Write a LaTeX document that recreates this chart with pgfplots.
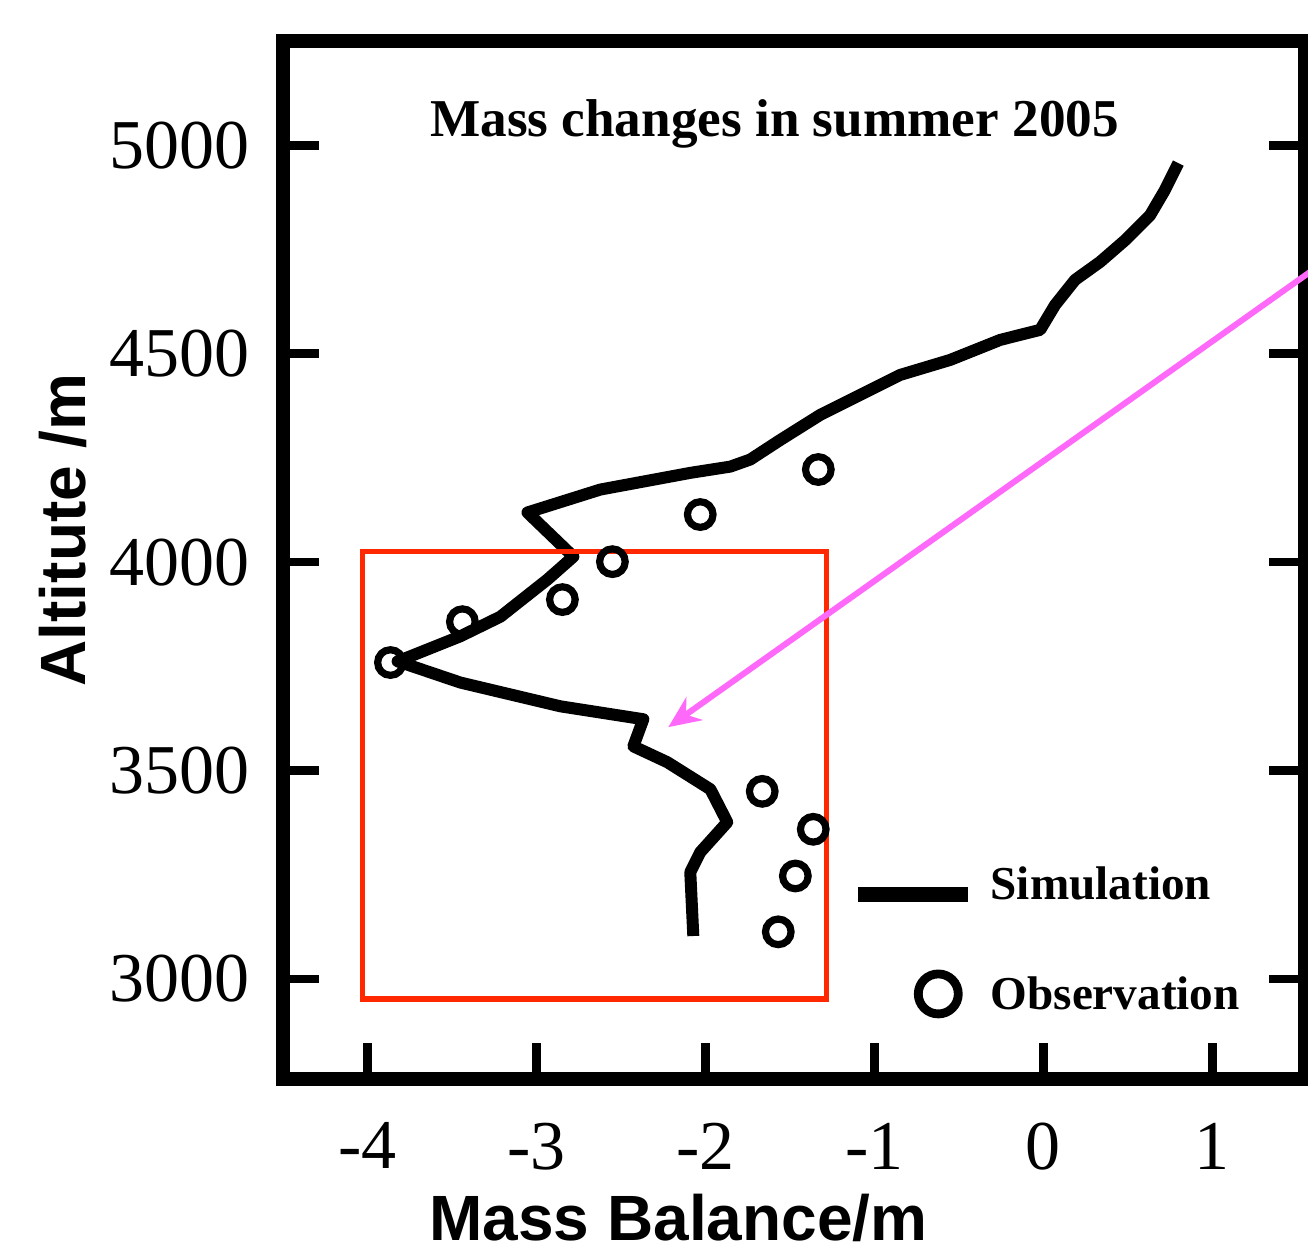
\documentclass[border=0pt]{standalone}
\usepackage{fontspec}
\setmainfont{Liberation Serif}
\newfontfamily\labelfont{Liberation Sans}
\usepackage{pgfplots}
\usepackage{pgfplotstable}
\pgfplotsset{compat=1.18}
\usetikzlibrary{arrows.meta}

\definecolor{boxred}{RGB}{255,40,0}
\definecolor{arrowpink}{RGB}{255,105,250}

% simulated mass balance profile (m) against altitude (m)
\pgfplotstableread{
mb     alt
0.80   4957
0.72   4892
0.633  4832
0.485  4772
0.337  4720
0.189  4677
0.071  4617
-0.018 4557
-0.254 4533
-0.550 4485
-0.846 4449
-1.083 4401
-1.320 4353
-1.556 4293
-1.734 4246
-1.852 4229
-2.089 4214
-2.621 4174
-3.053 4119
-2.781 4013
-2.935 3958
-3.213 3869
-3.450 3822
-3.746 3774
-3.822 3762
-3.450 3711
-2.858 3654
-2.367 3623
-2.426 3558
-2.225 3520
-1.970 3455
-1.870 3376
-2.030 3304
-2.089 3256
-2.071 3103
}\simtable

% observed stakes
\pgfplotstableread{
mb     alt
-1.331 4222
-2.030 4114
-2.550 4001
-2.846 3910
-3.438 3857
-3.864 3759
-1.663 3450
-1.361 3359
-1.467 3247
-1.568 3113
}\obstable

\begin{document}
\begin{tikzpicture}
\useasboundingbox (-70.75pt,-43.5pt) rectangle (256.25pt,269.75pt);
\begin{axis}[
    scale only axis,
    width=255.5pt, height=259.5pt,
    xmin=-4.5, xmax=1.55,
    ymin=2760, ymax=5250,
    xtick={-4,-3,-2,-1,0,1},
    ytick={3000,3500,4000,4500,5000},
    xtick pos=lower, ytick pos=both, yticklabel pos=left,
    tick align=inside,
    major tick length=9pt,
    every tick/.style={black, line width=2.2pt},
    axis line style={line width=3.6pt},
    tick label style={font=\fontsize{17.5}{20}\selectfont},
    xticklabel style={anchor=north, inner sep=0pt, yshift=-10.75pt},
    yticklabel style={anchor=east, inner sep=0pt, xshift=-8.25pt},
    /pgf/number format/assume math mode=true,
    /pgf/number format/1000 sep={},
    clip=false,
    xlabel={Mass Balance/m},
    ylabel={Altitute /m},
    xlabel style={font=\labelfont\bfseries\fontsize{16}{19}\selectfont,
        at={(axis description cs:0.387,-0.156)}, anchor=base},
    ylabel style={font=\labelfont\bfseries\fontsize{16}{19}\selectfont,
        at={(axis description cs:-0.215,0.529)}, anchor=center},
    legend style={at={(axis cs:-1.143,3271)}, anchor=north west,
        draw=none, fill=none, inner sep=0pt,
        font=\bfseries\fontsize{11.8}{14}\selectfont,
        row sep=16pt, column sep=3.75pt,
        nodes={inner sep=0pt}, cells={anchor=west}},
]
\addplot[black, line width=3pt, line join=round,
    legend image code/.code={\draw[black, line width=3.7pt] (0pt,-2pt) -- (27.5pt,-2pt);}]
    table[x=mb, y=alt] {\simtable};
\addlegendentry{Simulation}
\addplot[black, only marks, mark=o, mark size=3.2pt, line width=1.8pt,
    legend image code/.code={\path[draw=none] (0pt,0pt) -- (27.5pt,0pt);
        \draw[draw=black, line width=2.2pt] (20pt,0.5pt) circle (5pt);}]
    table[x=mb, y=alt] {\obstable};
\addlegendentry{Observation}

\node[font=\bfseries\fontsize{13.3}{16}\selectfont, anchor=base]
    at (axis description cs:0.481,0.9075) {Mass changes in summer 2005};

\draw[boxred, line width=1.3pt] (axis cs:-4.03,4025) rectangle (axis cs:-1.284,2952);
\draw[arrowpink, line width=1.5pt, -{Stealth[length=8pt, width=7pt]}]
    (axis cs:1.58,4696) -- (axis cs:-2.219,3604);
\end{axis}
\end{tikzpicture}
\end{document}
